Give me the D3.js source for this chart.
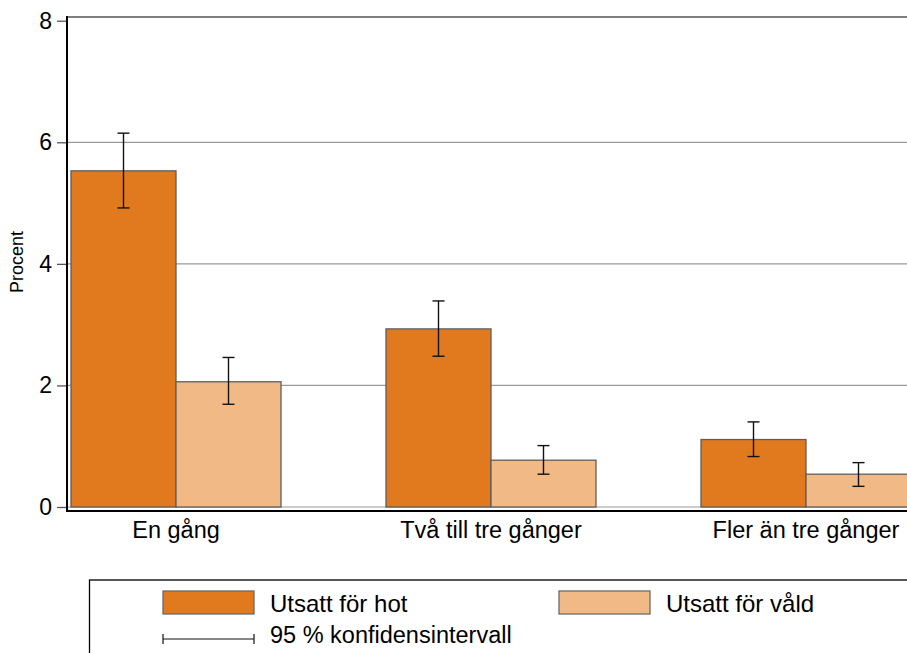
<!DOCTYPE html>
<html>
<head>
<meta charset="utf-8">
<script src="https://cdn.jsdelivr.net/npm/d3@7"></script>
<style>
  body { margin: 0; background: #fff; }
  text { font-family: "Liberation Sans", Arial, sans-serif; fill: #000; }
</style>
</head>
<body>
<div id="app"></div>
<script>
// data
const categories = ["En gång", "Två till tre gånger", "Fler än tre gånger"];
const series = ["Utsatt för hot", "Utsatt för våld"];
const hotValues = [5.53, 2.93, 1.11];
const hotLow = [4.92, 2.48, 0.83];
const hotHigh = [6.15, 3.39, 1.40];
const valdValues = [2.06, 0.77, 0.54];
const valdLow = [1.69, 0.54, 0.34];
const valdHigh = [2.46, 1.01, 0.73];
const yTicks = [0, 2, 4, 6, 8];
const ciLabel = "95 % konfidensintervall";

const width = 907
    , height = 653
    , colors = ["#e1791e", "#f0b986"];

const svg = d3.select("#app").append("svg")
    .attr("width", width)
    .attr("height", height);

const y = d3.scaleLinear().domain([0, 8]).range([507, 20.7]);

const x0 = d3.scaleBand().domain(categories)
    .range([71, 911]).paddingInner(1 / 3).paddingOuter(0);

const x1 = d3.scaleBand().domain(series).range([0, x0.bandwidth()]);

const rows = categories.map((c, i) => ({
  cat: c,
  bars: [
    { s: series[0], v: hotValues[i], lo: hotLow[i], hi: hotHigh[i] },
    { s: series[1], v: valdValues[i], lo: valdLow[i], hi: valdHigh[i] }
  ]
}));

// gridlines
svg.append("g")
  .selectAll("line")
    .data(yTicks.filter(d => d < 8))
  .enter().append("line")
    .attr("x1", 67).attr("x2", width)
    .attr("y1", d => y(d)).attr("y2", d => y(d))
    .attr("stroke", "#9a9a9a")
    .attr("stroke-width", 1.2);

// top frame
svg.append("line")
    .attr("x1", 67).attr("x2", width)
    .attr("y1", 17).attr("y2", 17)
    .attr("stroke", "#555")
    .attr("stroke-width", 1.6);

// bars
const group = svg.append("g")
  .selectAll("g")
    .data(rows)
  .enter().append("g")
    .attr("transform", d => `translate(${x0(d.cat)},0)`);

group.selectAll("rect")
    .data(d => d.bars)
  .enter().append("rect")
    .attr("x", d => x1(d.s))
    .attr("y", d => y(d.v))
    .attr("width", x1.bandwidth())
    .attr("height", d => y(0) - y(d.v))
    .attr("fill", (d, i) => colors[i])
    .attr("stroke", "#5e5e5e")
    .attr("stroke-width", 1.3);

// error bars
const err = group.selectAll(".err")
    .data(d => d.bars)
  .enter().append("g")
    .attr("class", "err")
    .attr("transform", d => `translate(${x1(d.s) + x1.bandwidth() / 2},0)`)
    .attr("stroke", "#111")
    .attr("stroke-width", 1.4);

err.append("line")
    .attr("y1", d => y(d.lo)).attr("y2", d => y(d.hi));
err.append("line")
    .attr("x1", -6).attr("x2", 6)
    .attr("y1", d => y(d.hi)).attr("y2", d => y(d.hi));
err.append("line")
    .attr("x1", -6).attr("x2", 6)
    .attr("y1", d => y(d.lo)).attr("y2", d => y(d.lo));

// axes
const yAxis = svg.append("g")
    .attr("transform", "translate(67,0)")
    .call(d3.axisLeft(y).tickValues(yTicks).tickSize(10).tickPadding(5));
yAxis.select(".domain").remove();
yAxis.selectAll(".tick line").attr("stroke", "#555").attr("stroke-width", 1.3);
yAxis.selectAll("text")
    .style("font-family", '"Liberation Sans", Arial, sans-serif')
    .style("font-size", "23px")
    .attr("fill", "#000");

svg.append("line")
    .attr("x1", 67).attr("x2", 67)
    .attr("y1", 16).attr("y2", 512)
    .attr("stroke", "#000").attr("stroke-width", 2);
svg.append("line")
    .attr("x1", 66).attr("x2", width)
    .attr("y1", 511).attr("y2", 511)
    .attr("stroke", "#000").attr("stroke-width", 2);

svg.append("g")
  .selectAll("text")
    .data(categories)
  .enter().append("text")
    .attr("x", d => x0(d) + x0.bandwidth() / 2)
    .attr("y", 538)
    .attr("text-anchor", "middle")
    .style("font-size", "23.5px")
    .text(d => d);

svg.append("text")
    .attr("transform", "translate(23,262) rotate(-90)")
    .attr("text-anchor", "middle")
    .style("font-size", "18px")
    .text("Procent");

// legend
const legend = svg.append("g");
legend.append("rect")
    .attr("x", 89.5).attr("y", 580)
    .attr("width", 900).attr("height", 100)
    .attr("fill", "none")
    .attr("stroke", "#000")
    .attr("stroke-width", 1.3);

const legendX = [163, 559];
legend.selectAll(".sw")
    .data(series)
  .enter().append("rect")
    .attr("x", (d, i) => legendX[i])
    .attr("y", 591)
    .attr("width", 91).attr("height", 23)
    .attr("fill", (d, i) => colors[i])
    .attr("stroke", "#6a6a6a")
    .attr("stroke-width", 1.3);
legend.selectAll(".lt")
    .data(series)
  .enter().append("text")
    .attr("x", (d, i) => legendX[i] + 107)
    .attr("y", 612)
    .style("font-size", "24px")
    .text(d => d);

const ci = legend.append("g").attr("stroke", "#111").attr("stroke-width", 1.2);
ci.append("line").attr("x1", 163).attr("x2", 254).attr("y1", 639).attr("y2", 639);
ci.append("line").attr("x1", 163).attr("x2", 163).attr("y1", 634).attr("y2", 644);
ci.append("line").attr("x1", 254).attr("x2", 254).attr("y1", 634).attr("y2", 644);
legend.append("text")
    .attr("x", 270).attr("y", 643)
    .style("font-size", "23.5px")
    .text(ciLabel);
</script>
</body>
</html>
